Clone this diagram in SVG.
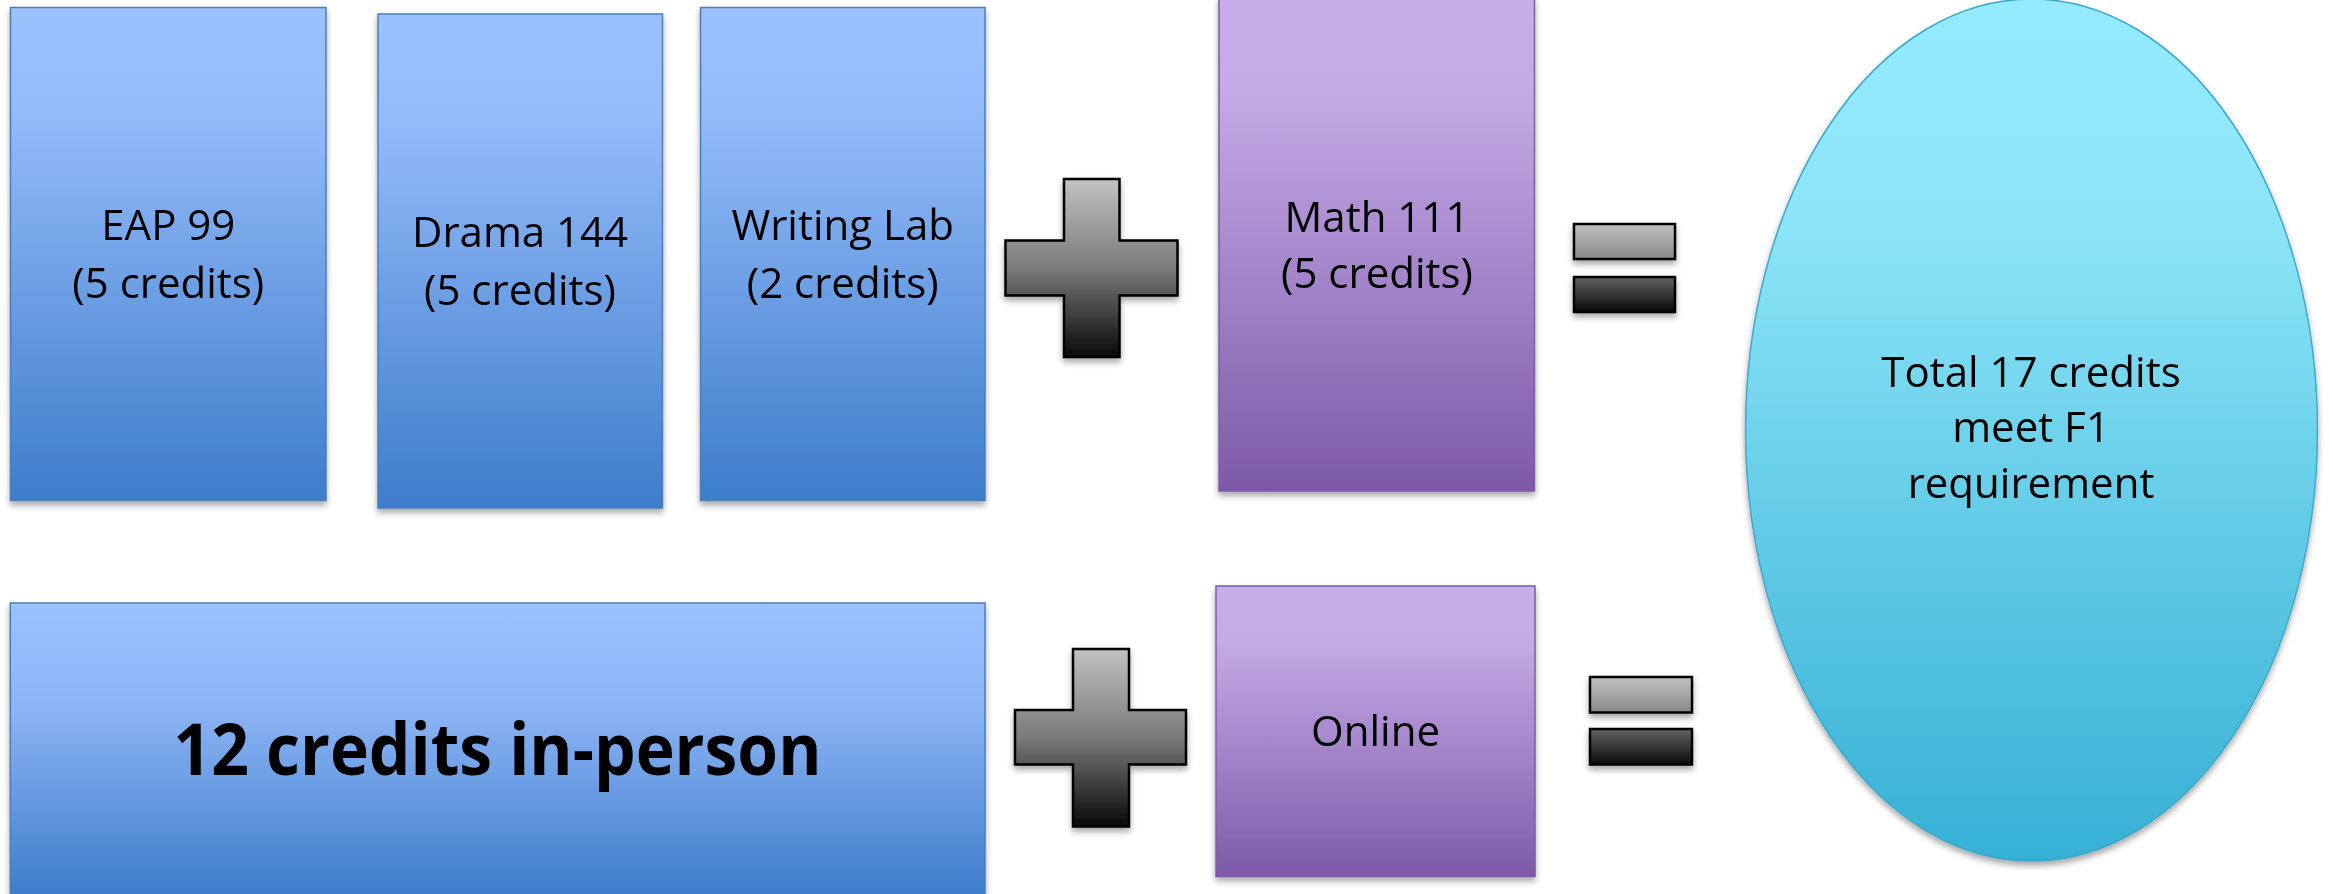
<svg xmlns="http://www.w3.org/2000/svg" width="2333" height="894" viewBox="0 0 2333 894">
  <style>
    .lbl { font-family: "Open Sans", "Liberation Sans", sans-serif; font-size: 42px; fill: #000; text-anchor: middle; }
    .big { font-family: "Open Sans", "Liberation Sans", sans-serif; font-size: 71px; font-weight: bold; fill: #000; text-anchor: middle; }
    .blue { fill: url(#gBlue); stroke: #4a7ebb; stroke-width: 1.5; }
    .purple { fill: url(#gPurple); stroke: #7d5ba6; stroke-width: 1.5; }
    .sign { stroke: #000; stroke-width: 2.5; }
  </style>
  <defs>
    <linearGradient id="gBlue" x1="0" y1="0" x2="0" y2="1">
      <stop offset="0" stop-color="#9cc1ff"/>
      <stop offset="0.2" stop-color="#95bcfa"/>
      <stop offset="1" stop-color="#3e7dcb"/>
    </linearGradient>
    <linearGradient id="gBlueBig" gradientUnits="userSpaceOnUse" x1="0" y1="603" x2="0" y2="894">
      <stop offset="0" stop-color="#9cc1ff"/>
      <stop offset="0.35" stop-color="#8db5f5"/>
      <stop offset="1" stop-color="#3e7dcb"/>
    </linearGradient>
    <linearGradient id="gPurple" x1="0" y1="0" x2="0" y2="1">
      <stop offset="0" stop-color="#c8afeb"/>
      <stop offset="0.2" stop-color="#c3a9e6"/>
      <stop offset="1" stop-color="#7e59a8"/>
    </linearGradient>
    <linearGradient id="gCyan" x1="0" y1="0" x2="0" y2="1">
      <stop offset="0" stop-color="#95ebfe"/>
      <stop offset="0.25" stop-color="#8de5f8"/>
      <stop offset="1" stop-color="#36b0d5"/>
    </linearGradient>
    <linearGradient id="gGray" x1="0" y1="0" x2="0" y2="1">
      <stop offset="0" stop-color="#c2c2c2"/>
      <stop offset="0.5" stop-color="#7a7a7a"/>
      <stop offset="1" stop-color="#080808"/>
    </linearGradient>
    <filter id="shadow" x="-10%" y="-10%" width="120%" height="125%">
      <feDropShadow dx="0" dy="4" stdDeviation="3" flood-color="#000" flood-opacity="0.35"/>
    </filter>
  </defs>

  <g id="connectors"/>

  <g id="eap99" filter="url(#shadow)">
    <rect class="blue" x="10.5" y="7.5" width="315.5" height="493"/>
    <text class="lbl" x="168.3" y="240">EAP 99</text>
    <text class="lbl" x="168.3" y="298">(5 credits)</text>
  </g>

  <g id="drama144" filter="url(#shadow)">
    <rect class="blue" x="378" y="14" width="284.5" height="494"/>
    <text class="lbl" x="520" y="247">Drama 144</text>
    <text class="lbl" x="520" y="305">(5 credits)</text>
  </g>

  <g id="writinglab" filter="url(#shadow)">
    <rect class="blue" x="700.5" y="7.5" width="284.5" height="493"/>
    <text class="lbl" x="842.7" y="240">Writing Lab</text>
    <text class="lbl" x="842.7" y="298">(2 credits)</text>
  </g>

  <g id="plus-top" filter="url(#shadow)">
    <path class="sign" fill="url(#gGray)" d="M1064,179 H1119.5 V240.5 H1177.5 V295.5 H1119.5 V357 H1064 V295.5 H1005.5 V240.5 H1064 Z"/>
  </g>

  <g id="math111" filter="url(#shadow)">
    <rect class="purple" x="1219" y="-2" width="315.5" height="493"/>
    <text class="lbl" x="1377" y="232">Math 111</text>
    <text class="lbl" x="1377" y="288">(5 credits)</text>
  </g>

  <g id="equals-top" filter="url(#shadow)">
    <path class="sign" fill="url(#gGray)" d="M1574,224 H1675 V259 H1574 Z M1574,277 H1675 V312 H1574 Z"/>
  </g>

  <g id="total" filter="url(#shadow)">
    <ellipse cx="2031.5" cy="430" rx="286" ry="431" fill="url(#gCyan)" stroke="#3ea8c8" stroke-width="1.5"/>
    <text class="lbl" x="2031" y="387">Total 17 credits</text>
    <text class="lbl" x="2031" y="442">meet F1</text>
    <text class="lbl" x="2031" y="498">requirement</text>
  </g>

  <g id="inperson" filter="url(#shadow)">
    <rect x="10.3" y="603" width="974.7" height="320" fill="url(#gBlueBig)" stroke="#4a7ebb" stroke-width="1.5"/>
    <text class="big" x="497.5" y="775" textLength="648" lengthAdjust="spacingAndGlyphs">12 credits in-person</text>
  </g>

  <g id="plus-bottom" filter="url(#shadow)">
    <path class="sign" fill="url(#gGray)" d="M1073,649 H1129 V710 H1186 V764.5 H1129 V826.5 H1073 V764.5 H1015 V710 H1073 Z"/>
  </g>

  <g id="online" filter="url(#shadow)">
    <rect class="purple" x="1216" y="586" width="319" height="290.5"/>
    <text class="lbl" x="1375.5" y="746">Online</text>
  </g>

  <g id="equals-bottom" filter="url(#shadow)">
    <path class="sign" fill="url(#gGray)" d="M1590,677 H1692 V712.5 H1590 Z M1590,729 H1692 V764.5 H1590 Z"/>
  </g>
</svg>
